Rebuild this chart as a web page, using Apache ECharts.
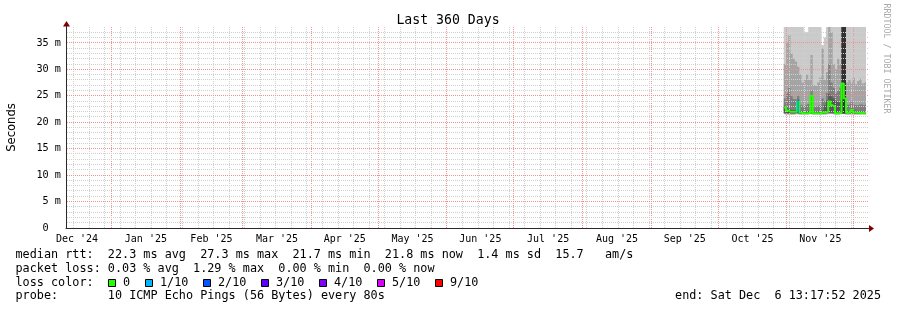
<!DOCTYPE html>
<html>
<head>
<meta charset="utf-8">
<script src="https://cdn.jsdelivr.net/npm/echarts@6/dist/echarts.min.js"></script>
<style>
html,body{margin:0;padding:0;background:#fff;}
#chart{width:897px;height:310px;}
</style>
</head>
<body>
<div id="chart"></div>
<script>
// ---------------- data ----------------
const dates = [
  '2025-10-30','2025-10-31',
  '2025-11-01','2025-11-02','2025-11-03','2025-11-04','2025-11-05','2025-11-06','2025-11-07','2025-11-08','2025-11-09','2025-11-10',
  '2025-11-11','2025-11-12','2025-11-13','2025-11-14','2025-11-15','2025-11-16','2025-11-17','2025-11-18','2025-11-19','2025-11-20',
  '2025-11-21','2025-11-22','2025-11-23','2025-11-24','2025-11-25','2025-11-26','2025-11-27','2025-11-28','2025-11-29','2025-11-30',
  '2025-12-01','2025-12-02','2025-12-03','2025-12-04','2025-12-05','2025-12-06'
];
// median rtt (ms)
const median = [22.8,22.2,22.0,22.0,22.0,22.0,23.9,21.8,21.7,21.7, 21.7,21.8,25.0,21.7,21.7,21.7,21.7,21.9,21.8,22.0,
                23.9,23.2,23.0,21.7,21.7,21.8,27.3,24.5,21.8,21.9, 22.3,21.9,21.8,21.8,21.7,21.8,21.8,21.8];
// lost pings out of 10
const lossCount = [0,0,0,0,0,0,1,0,0,0, 0,0,0,0,0,0,0,0,0,0, 0,0,0,0,0,0,0,0,0,0, 0,0,0,0,0,0,0,0];
// sorted ping values (ms), ping1 = fastest ... ping10 = slowest
const ping1 = [21.5,21.4,21.4,21.4,21.4,21.4,21.5,21.4,21.4,21.4, 21.4,21.4,21.5,21.4,21.4,21.4,21.4,21.4,21.4,21.4,
               21.5,21.5,21.5,21.4,21.4,21.4,21.5,21.5,21.4,21.4, 21.4,21.4,21.4,21.4,21.4,21.4,21.4,21.4];
const ping2 = [21.6,21.5,21.5,21.5,21.5,21.5,21.6,21.5,21.5,21.5, 21.5,21.5,21.6,21.5,21.5,21.5,21.5,21.5,21.5,21.5,
               21.6,21.6,21.6,21.5,21.5,21.5,21.6,21.6,21.5,21.5, 21.5,21.5,21.5,21.5,21.5,21.5,21.5,21.5];
const ping3 = [21.7,21.6,21.6,21.6,21.6,21.6,21.7,21.6,21.6,21.6, 21.6,21.6,21.7,21.6,21.6,21.6,21.6,21.6,21.6,21.6,
               21.7,21.7,21.7,21.6,21.6,21.6,21.6,21.6,21.6,21.6, 21.6,21.6,21.6,21.6,21.6,21.6,21.6,21.6];
const ping4 = [21.8,21.7,21.7,21.7,21.7,21.7,21.8,21.6,21.6,21.6, 21.6,21.6,21.8,21.6,21.6,21.6,21.6,21.7,21.7,21.7,
               21.8,21.8,21.8,21.6,21.6,21.7,21.7,21.7,21.7,21.7, 21.7,21.7,21.7,21.7,21.6,21.7,21.7,21.7];
const ping5 = [22.7,22.1,21.9,21.9,21.9,21.9,23.8,21.7,21.6,21.6, 21.6,21.7,24.9,21.6,21.6,21.6,21.6,21.8,21.7,21.9,
               23.8,23.1,22.9,21.6,21.6,21.7,21.7,21.7,21.7,21.8, 22.2,21.8,21.7,21.7,21.6,21.7,21.7,21.7];
const ping6 = [22.9,22.3,22.1,22.1,22.1,22.1,24.0,21.9,21.8,21.8, 21.8,21.9,25.1,21.8,21.8,21.8,21.8,22.0,21.9,22.1,
               24.0,23.3,23.1,21.8,21.8,21.9,46.0,44.0,21.9,22.0, 22.4,22.0,21.9,21.9,21.8,21.9,21.9,21.9];
const ping7 = [23.1,22.6,22.4,22.3,22.3,22.4,24.3,22.1,22.0,22.0, 22.1,22.2,25.2,22.0,22.0,22.1,22.1,22.3,23.2,24.1,
               25.3,24.9,24.5,24.0,23.7,24.0,48.0,46.0,22.1,22.2, 22.5,22.2,22.1,22.1,22.0,22.1,22.1,22.1];
const ping8 = [24.5,25.5,26.5,25.0,24.4,24.2,25.0,23.3,23.0,23.2, 23.5,23.3,26.0,22.9,23.0,23.2,23.3,24.5,24.0,25.5,
               31.0,27.5,26.5,25.5,26.0,26.5,50.0,48.0,23.3,23.4, 23.8,23.3,23.2,23.3,23.4,23.2,23.3,23.3];
const ping9 = [31.0,35.0,36.5,33.0,32.0,31.5,30.5,29.0,27.5,28.0, 29.0,28.0,32.7,27.0,26.8,27.5,28.5,34.0,28.0,29.5,
               41.0,37.0,31.0,30.0,32.0,31.0,52.0,50.0,27.5,28.0, 27.5,28.3,27.2,27.8,28.2,27.3,27.6,27.6];
const ping10 = [44.2,47.5,52.1,49.3,45.0,43.8,46.1,42.5,40.9,37.0, 37.0,41.2,48.6,43.0,39.8,41.5,44.7,34.6,36.0,45.3,
                55.2,49.8,46.0,42.7,44.1,47.3,58.4,51.0,43.2,42.0, 44.8,41.6,40.3,42.9,45.5,41.1,43.4,43.4];

const yTicks = [0,5,10,15,20,25,30,35];
const monthLabels = ["Dec '24","Jan '25","Feb '25","Mar '25","Apr '25","May '25","Jun '25","Jul '25","Aug '25","Sep '25","Oct '25","Nov '25"];
const lossLegendLabels = ['0','1/10','2/10','3/10','4/10','5/10','9/10'];
const lossLegendLevels = [0,1,2,3,4,5,9];
const lossLegendColors = ['#26ff00','#00b8ff','#0059ff','#5e00ff','#7e00ff','#dd00ff','#ff0000'];
const rttStats = [22.3, 27.3, 21.7, 21.8];   // avg, max, min, now (ms)
const rttSd = 1.4;
const rttAmPerS = 15.7;
const lossStats = [0.03, 1.29, 0.00, 0.00];  // avg, max, min, now (%)
const probeText = '10 ICMP Echo Pings (56 Bytes) every 80s';
const endText = 'end: Sat Dec  6 13:17:52 2025';

// ---------------- helpers ----------------
const MONO = '"DejaVu Sans Mono", monospace';
const T = d => Date.parse(d + 'T13:17:52Z');
const rangeStart = T('2024-12-11');
const rangeEnd = T('2025-12-06');
const DAY = 864e5;
const times = dates.map(T);

const monthStarts = [];
for (let k = 0; k <= 12; k++) monthStarts.push(Date.UTC(2024, 11 + k, 1));
const weekStarts = [];
for (let t = Date.UTC(2024, 11, 15); t < rangeEnd; t += 7 * DAY) weekStarts.push(t);

const GRID_MINOR = '#d0d0d0';
const GRID_MAJOR = '#f29292';
const AXIS = '#2a2a2a';
const ARROW = '#800000';

// grid lines: [x, y, kind] kind 0 week, 1 month, 2 minor horizontal, 3 major horizontal
const gridLines = [];
weekStarts.forEach(t => gridLines.push([t, 0, 0]));
monthStarts.slice(1).forEach(t => { if (t < rangeEnd) gridLines.push([t, 0, 1]); });
for (let v = 1; v < 38; v++) gridLines.push([rangeStart, v, yTicks.includes(v) ? 3 : 2]);

const monthMid = monthLabels.map((_, k) => [(monthStarts[k] + monthStarts[k + 1]) / 2, 0, k]);

function lossColor(n) {
  let c = lossLegendColors[0];
  lossLegendLevels.forEach((lv, i) => { if (n >= lv) c = lossLegendColors[i]; });
  return c;
}
const lossPieces = [];
for (let i = 0; i < times.length - 1; i++) {
  if (lossCount[i] > 0) lossPieces.push({ gte: times[i], lt: times[i + 1], color: lossColor(lossCount[i]) });
}

// ---------------- series ----------------
const smokeColors = ['#cacaca', '#a4a4a4', '#7e7e7e', '#585858', '#323232'];
const pings = [ping1, ping2, ping3, ping4, ping5, ping6, ping7, ping8, ping9, ping10];
const series = [];
for (let k = 0; k < 5; k++) {
  const lo = pings[k], hi = pings[9 - k];
  series.push({
    type: 'line', stack: 'smoke' + k, step: 'end', symbol: 'none', z: 2, silent: true,
    lineStyle: { width: 0, opacity: 0 },
    data: times.map((t, i) => [t, lo[i]])
  });
  series.push({
    type: 'line', stack: 'smoke' + k, step: 'end', symbol: 'none', z: 2, silent: true,
    lineStyle: { width: 0, opacity: 0 },
    areaStyle: { color: smokeColors[k], opacity: 1 },
    data: times.map((t, i) => [t, +(hi[i] - lo[i]).toFixed(3)])
  });
}
series.push({
  type: 'custom', z: 3, silent: true, clip: false,
  data: gridLines,
  renderItem: function (params, api) {
    const cs = params.coordSys;
    const kind = api.value(2);
    const color = (kind === 1 || kind === 3) ? GRID_MAJOR : GRID_MINOR;
    if (kind < 2) {
      const x = Math.floor(api.coord([api.value(0), 0])[0]) + 0.5;
      return { type: 'line', shape: { x1: x, y1: cs.y, x2: x, y2: cs.y + cs.height },
        style: { stroke: color, fill: null, lineWidth: 1, lineDash: [1, 1], opacity: 1 } };
    }
    const y = Math.floor(api.coord([api.value(0), api.value(1)])[1]) + 0.5;
    return { type: 'line', shape: { x1: cs.x + 1, y1: y, x2: cs.x + cs.width + 2, y2: y },
      style: { stroke: color, fill: null, lineWidth: 1, lineDash: [1, 1], opacity: 1 } };
  }
});
series.push({
  type: 'custom', z: 5, silent: true, clip: false,
  data: monthMid,
  renderItem: function (params, api) {
    const p = api.coord([api.value(0), 0]);
    return { type: 'text', x: p[0], y: p[1] + 11,
      style: { text: monthLabels[api.value(2)], font: '10px ' + MONO, fill: '#000',
        align: 'center', verticalAlign: 'middle', textAlign: 'center', textVerticalAlign: 'middle' } };
  }
});
const medianIndex = series.length;
series.push({
  type: 'line', step: 'end', symbol: 'none', z: 4, silent: true,
  lineStyle: { width: 2 },
  data: times.map((t, i) => [t, median[i]])
});

// ---------------- legend / text graphics ----------------
const CW = 7.1;
const LX = 15.5;
const rowY = [255, 268.8, 282.6, 296.4];
const f = (v, d) => v.toFixed(d);
const row1 = 'median rtt:  ' + f(rttStats[0],1) + ' ms avg  ' + f(rttStats[1],1) + ' ms max  ' +
  f(rttStats[2],1) + ' ms min  ' + f(rttStats[3],1) + ' ms now  ' + f(rttSd,1) + ' ms sd  ' + f(rttAmPerS,1) + '   am/s';
const row2 = 'packet loss: ' + f(lossStats[0],2) + ' % avg  ' + f(lossStats[1],2) + ' % max  ' +
  f(lossStats[2],2) + ' % min  ' + f(lossStats[3],2) + ' % now';
const row4 = 'probe:       ' + probeText;

function txt(s, x, y, opts) {
  opts = opts || {};
  return {
    type: 'text', x: x, y: y, rotation: opts.rotation || 0, silent: true,
    style: { text: s, font: opts.font || ('11.8px ' + MONO), fill: opts.fill || '#000',
      align: opts.align || 'left', verticalAlign: 'middle',
      textAlign: opts.align || 'left', textVerticalAlign: 'middle' }
  };
}
const graphics = [
  txt('Last 360 Days', 448, 21, { font: '13.2px ' + MONO, align: 'center' }),
  txt('Seconds', 11.5, 127.5, { font: '11.6px "DejaVu Sans", sans-serif', align: 'center', rotation: Math.PI / 2 }),
  txt('RRDTOOL / TOBI OETIKER', 886.5, 58.5, { font: '8.3px ' + MONO, align: 'center', rotation: -Math.PI / 2, fill: '#aaaaaa' }),
  txt(row1, LX, rowY[0]),
  txt(row2, LX, rowY[1]),
  txt('loss color:', LX, rowY[2]),
  txt(row4, LX, rowY[3]),
  txt(endText, 881, rowY[3], { align: 'right' })
];
let bx = LX + 13 * CW;
lossLegendLabels.forEach((lab, i) => {
  const b = Math.round(bx);
  graphics.push({ type: 'rect', silent: true, shape: { x: b + 0.5, y: 279.5, width: 7, height: 7 },
    style: { fill: lossLegendColors[i], stroke: '#000', lineWidth: 1 } });
  graphics.push(txt(lab, b + 15, rowY[2]));
  bx = b + 15 + (lab.length + 2) * CW + 0.6;
});

// ---------------- chart ----------------
const chart = echarts.init(document.getElementById('chart'), null, { renderer: 'canvas' });
const option = {
  animation: false,
  backgroundColor: '#ffffff',
  grid: { left: 66, top: 27, width: 800, height: 201, containLabel: false },
  xAxis: {
    type: 'time', min: rangeStart, max: rangeEnd,
    axisLine: { show: true, lineStyle: { color: AXIS, width: 1 } },
    axisTick: { show: false }, axisLabel: { show: false }, splitLine: { show: false }
  },
  yAxis: {
    type: 'value', min: 0, max: 38, interval: 1,
    axisLine: { show: true, lineStyle: { color: AXIS, width: 1 } },
    axisTick: { show: false }, splitLine: { show: false },
    axisLabel: {
      show: true, margin: 5, color: '#000', fontFamily: MONO, fontSize: 10.2,
      formatter: v => yTicks.includes(v) ? (v === 0 ? '0  ' : v + ' m') : ''
    }
  },
  visualMap: {
    type: 'piecewise', show: false, seriesIndex: medianIndex, dimension: 0,
    pieces: lossPieces, outOfRange: { color: lossLegendColors[0] }
  },
  series: series,
  graphic: graphics
};
chart.setOption(option);

// axis arrows positioned from the chart's own scales
const pEnd = chart.convertToPixel({ xAxisIndex: 0, yAxisIndex: 0 }, [rangeEnd, 0]);
const pTop = chart.convertToPixel({ xAxisIndex: 0, yAxisIndex: 0 }, [rangeStart, 38]);
const ax = Math.round(pEnd[0]), ay = Math.round(pEnd[1]) + 0.5;
const yx = Math.round(pTop[0]) + 0.5, yt = Math.round(pTop[1]);
graphics.push(
  { type: 'line', silent: true, shape: { x1: ax, y1: ay, x2: ax + 4, y2: ay }, style: { stroke: AXIS, lineWidth: 1 } },
  { type: 'polygon', silent: true, shape: { points: [[ax + 3, ay - 3.5], [ax + 8, ay], [ax + 3, ay + 3.5]] }, style: { fill: ARROW } },
  { type: 'line', silent: true, shape: { x1: yx, y1: yt, x2: yx, y2: yt - 2 }, style: { stroke: AXIS, lineWidth: 1 } },
  { type: 'polygon', silent: true, shape: { points: [[yx - 3.5, yt - 0.5], [yx, yt - 6], [yx + 3.5, yt - 0.5]] }, style: { fill: ARROW } }
);
chart.setOption({ graphic: graphics });
</script>
</body>
</html>
